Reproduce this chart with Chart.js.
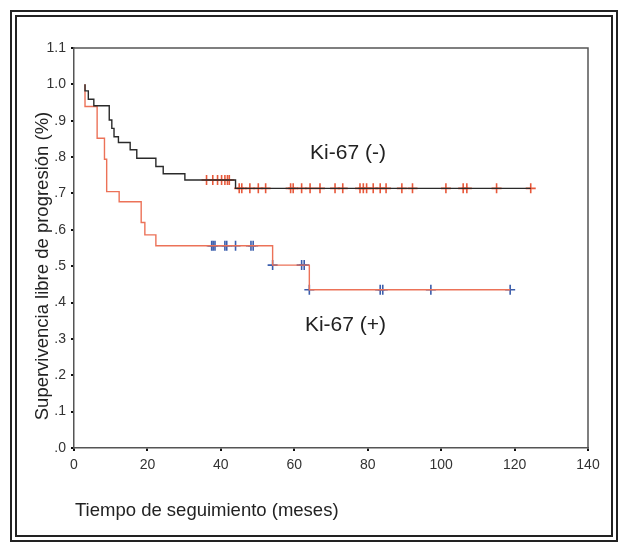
<!DOCTYPE html>
<html>
<head>
<meta charset="utf-8">
<script src="https://cdn.jsdelivr.net/npm/chart.js@4/dist/chart.umd.min.js"></script>
<style>
  html, body { margin: 0; padding: 0; background: #fff; }
  #wrap { position: relative; width: 621px; height: 543px; }
  #frame { position: absolute; left: 10px; top: 10px; width: 594px; height: 518px;
           border: 7px double #222; pointer-events: none; }
  canvas { position: absolute; left: 0; top: 0; }
</style>
</head>
<body>
<div id="wrap">
  <canvas id="km" width="621" height="543"></canvas>
  <div id="frame"></div>
</div>
<script>
// Ki-67 (-): event times and survival after each event
var negTimes = [3.0, 3.0, 3.9, 5.4, 9.6, 10.3, 10.9, 12.1, 15.3, 17.1, 22.3, 24.3, 30.2, 44.0, 124.4];
var negSurv  = [1.0, 0.982, 0.959, 0.941, 0.902, 0.879, 0.856, 0.840, 0.820, 0.797, 0.774, 0.754, 0.737, 0.714, 0.714];
var negCensored = [36.1, 37.8, 39.1, 40.2, 41.1, 41.8, 42.3, 45.0, 45.7, 47.9, 50.2, 52.2, 59.0, 59.7,
                   62.0, 64.3, 67.0, 71.1, 73.2, 77.9, 78.8, 79.7, 81.5, 83.4, 85.0, 89.3, 92.2,
                   101.3, 106.0, 107.0, 115.1, 124.4];

// Ki-67 (+)
var posTimes = [3.0, 3.0, 6.3, 8.3, 8.9, 12.3, 18.3, 19.3, 22.3, 54.1, 64.1, 118.8];
var posSurv  = [1.0, 0.939, 0.852, 0.794, 0.705, 0.677, 0.620, 0.586, 0.556, 0.503, 0.435, 0.435];
var posCensored = [37.5, 37.9, 38.4, 41.1, 41.6, 44.0, 48.2, 48.8, 54.1, 62.0, 62.7, 64.1,
                   83.4, 84.1, 97.2, 118.8];

var xTicks = [0, 20, 40, 60, 80, 100, 120, 140];
var yTickLabels = ['.0', '.1', '.2', '.3', '.4', '.5', '.6', '.7', '.8', '.9', '1.0', '1.1'];

function toPoints(ts, ss) {
    var pts = [];
    for (var i = 0; i < ts.length; i++) pts.push({x: ts[i], y: ss[i]});
    return pts;
}
// survival value at time t, read from the step function
function survAt(ts, ss, t) {
    var v = ss[0];
    for (var i = 0; i < ts.length; i++) { if (ts[i] <= t) v = ss[i]; }
    return v;
}
function censPoints(cs, ts, ss) {
    return cs.map(function (t) { return {x: t, y: survAt(ts, ss, t)}; });
}

var FONT = 'Arial, "Liberation Sans", sans-serif';

var extras = {
    id: 'extras',
    afterDraw: function (chart) {
        var ctx = chart.ctx, a = chart.chartArea;
        ctx.save();
        // top and right sides of the box
        ctx.strokeStyle = '#555';
        ctx.lineWidth = 1.5;
        ctx.beginPath();
        ctx.moveTo(a.left, a.top);
        ctx.lineTo(a.right, a.top);
        ctx.lineTo(a.right, a.bottom);
        ctx.stroke();

        ctx.fillStyle = '#222';
        ctx.font = '18.5px ' + FONT;
        ctx.textBaseline = 'middle';
        ctx.textAlign = 'left';
        ctx.fillText('Tiempo de seguimiento (meses)', 75, 511);

        ctx.save();
        ctx.translate(43, 266);
        ctx.rotate(-Math.PI / 2);
        ctx.textAlign = 'center';
        ctx.fillText('Supervivencia libre de progresión (%)', 0, 0);
        ctx.restore();

        // curve labels
        var xs = chart.scales.x, ys = chart.scales.y;
        ctx.font = '21px ' + FONT;
        ctx.textAlign = 'left';
        ctx.fillText('Ki-67 (-)', xs.getPixelForValue(64.3), ys.getPixelForValue(0.811));
        ctx.fillText('Ki-67 (+)', xs.getPixelForValue(62.9), ys.getPixelForValue(0.338));
        ctx.restore();
    }
};

new Chart(document.getElementById('km'), {
    type: 'line',
    data: {
        datasets: [
            {
                data: toPoints(negTimes, negSurv),
                borderColor: '#2a2a2a', borderWidth: 1.4, stepped: 'before',
                pointRadius: 0, fill: false
            },
            {
                data: toPoints(posTimes, posSurv),
                borderColor: '#ec7258', borderWidth: 1.4, stepped: 'before',
                pointRadius: 0, fill: false
            },
            {
                data: censPoints(negCensored, negTimes, negSurv),
                showLine: false, pointStyle: 'cross', pointRadius: 5,
                borderColor: '#e8583a', borderWidth: 1.6
            },
            {
                data: censPoints(posCensored, posTimes, posSurv),
                showLine: false, pointStyle: 'cross', pointRadius: 5,
                borderColor: '#3a5dac', borderWidth: 1.6
            }
        ]
    },
    options: {
        responsive: false,
        animation: false,
        devicePixelRatio: 1,
        layout: { padding: { top: 48, right: 33, left: 0, bottom: 0 } },
        plugins: { legend: { display: false }, tooltip: { enabled: false } },
        scales: {
            x: {
                type: 'linear', min: 0, max: 140,
                afterFit: function (s) { s.height = 95; },
                afterBuildTicks: function (s) { s.ticks = xTicks.map(function (v) { return {value: v}; }); },
                border: { display: true, color: '#555', width: 1.5 },
                grid: { drawOnChartArea: false, drawTicks: true, tickLength: 3, color: '#111', lineWidth: 2 },
                ticks: { color: '#333', font: { family: FONT, size: 14 }, padding: 6, maxRotation: 0 }
            },
            y: {
                type: 'linear', min: 0, max: 1.1,
                afterFit: function (s) { s.width = 74; },
                afterBuildTicks: function (s) {
                    s.ticks = yTickLabels.map(function (l, i) { return {value: i / 10}; });
                },
                border: { display: true, color: '#555', width: 1.5 },
                grid: { drawOnChartArea: false, drawTicks: true, tickLength: 3, color: '#111', lineWidth: 2 },
                ticks: {
                    color: '#333', font: { family: FONT, size: 14 }, padding: 5,
                    callback: function (v, i) { return yTickLabels[i]; }
                }
            }
        }
    },
    plugins: [extras]
});
</script>
</body>
</html>
